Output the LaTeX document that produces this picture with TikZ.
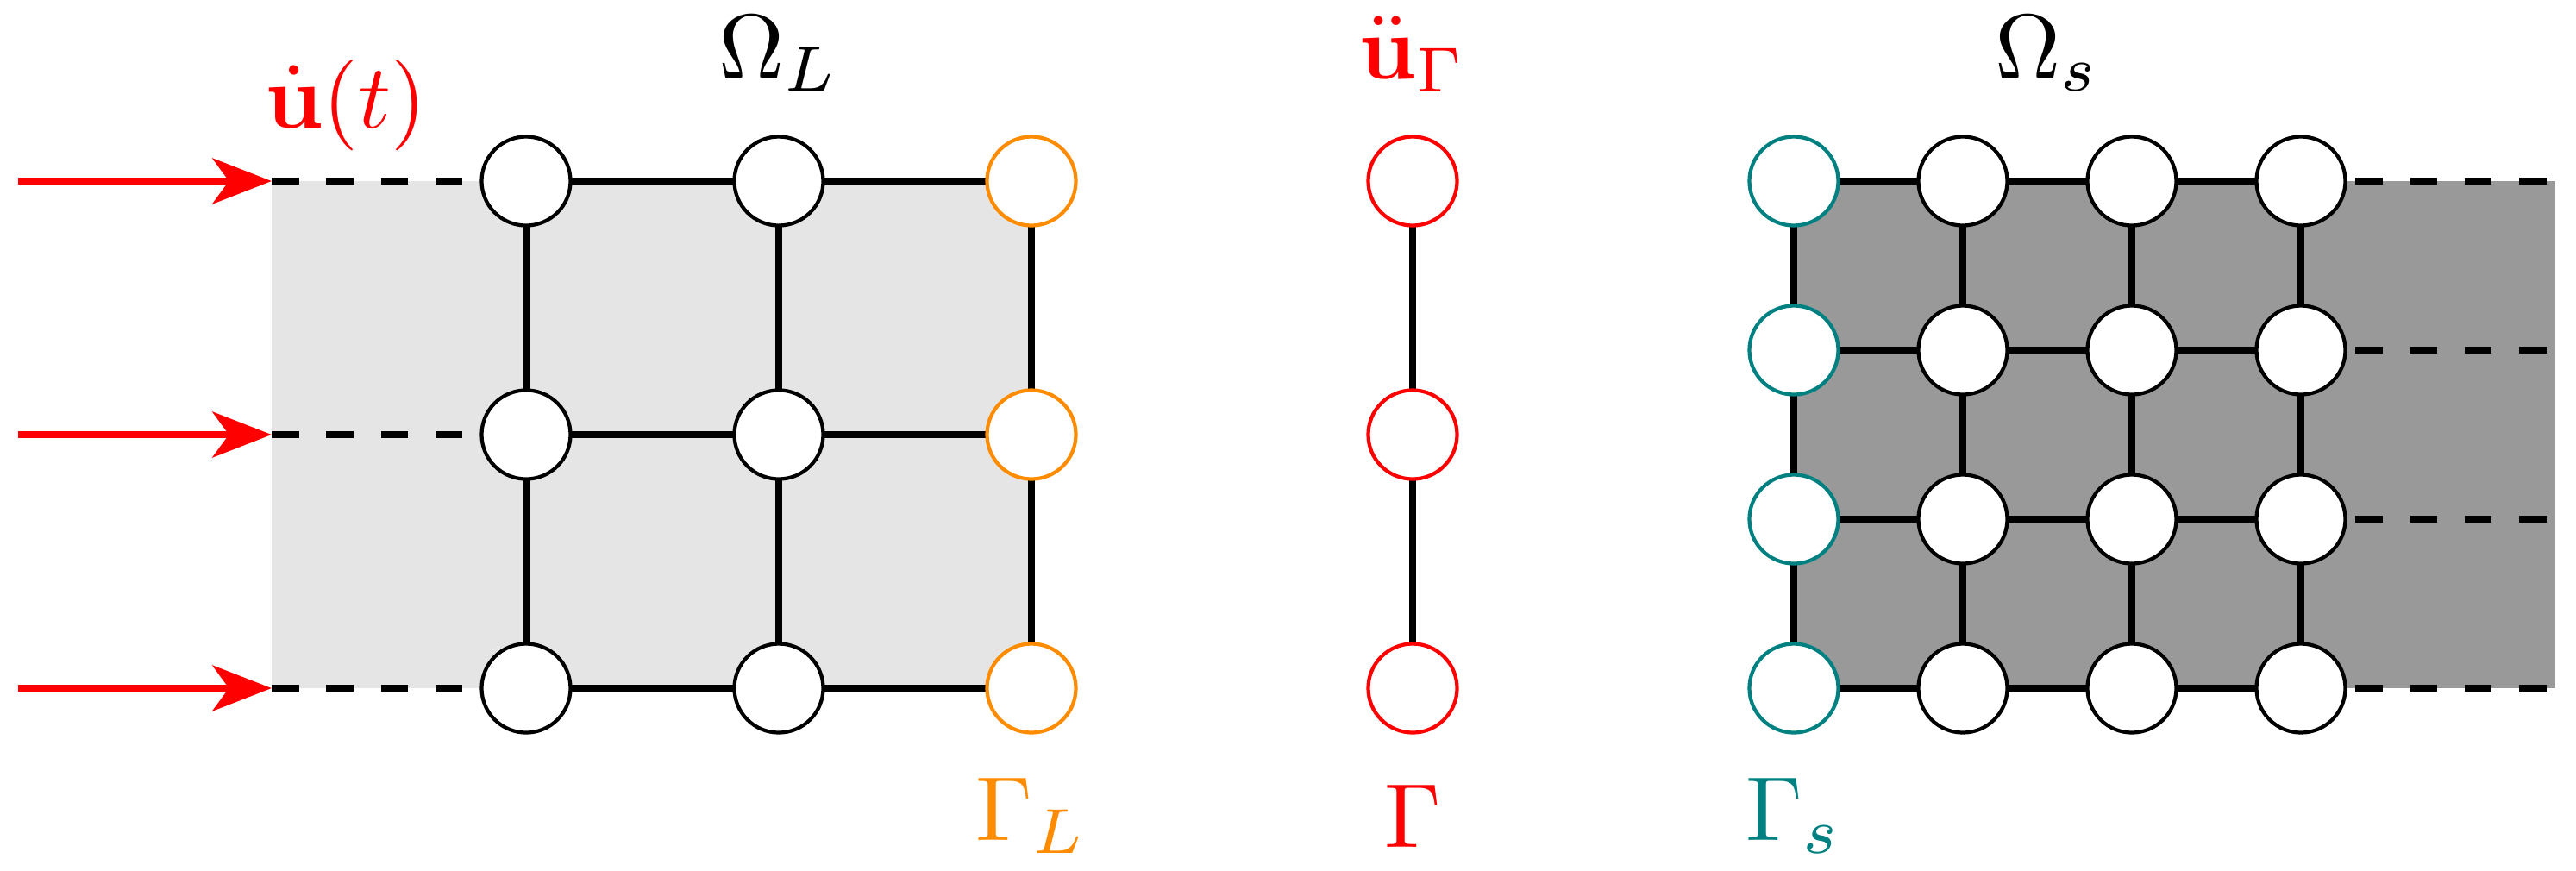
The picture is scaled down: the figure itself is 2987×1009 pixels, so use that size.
\documentclass[tikz,border=0pt]{standalone}
\usetikzlibrary{arrows.meta,backgrounds}
\definecolor{orng}{RGB}{255,140,0}
\definecolor{tealc}{RGB}{0,128,128}
\begin{document}
\begin{tikzpicture}[x=0.09484pt,y=-0.09484pt,
  dof/.style={circle,draw,fill=white,line width=0.4pt,inner sep=0pt,minimum size=9.77pt},
  bar/.style={line width=0.8pt},
  ext/.style={line width=0.8pt,dash pattern=on 3pt off 3pt},
  load/.style={red,line width=0.85pt,-{Stealth[length=6.5pt,width=5pt,inset=1.8pt]}},
  lbl/.style={inner sep=0pt}]
\useasboundingbox (0,0) rectangle (2987,1009);
% left domain nodes
\foreach \c/\x in {1/610,2/903}
  \foreach \r/\y in {1/210,2/504,3/798}
    \node[dof] (L\c\r) at (\x,\y) {};
\foreach \r/\y in {1/210,2/504,3/798} {
  \node[dof,draw=orng] (L3\r) at (1196,\y) {};
  \coordinate (Le\r) at (315,\y);
  \coordinate (As\r) at (21,\y);
  \node[dof,draw=red] (G\r) at (1638,\y) {};
}
% right domain nodes
\foreach \r/\y in {1/210,2/406,3/602,4/798} {
  \node[dof,draw=tealc] (S1\r) at (2080,\y) {};
  \foreach \c/\x in {2/2276,3/2472,4/2668}
    \node[dof] (S\c\r) at (\x,\y) {};
  \coordinate (Re\r) at (2963,\y);
}
\begin{scope}[on background layer]
  \fill[black!10] (Le1) rectangle (L33.center);
  \fill[black!40] (S11.center) rectangle (Re4);
  \foreach \r in {1,2,3} {
    \draw[bar] (L1\r.center) -- (L2\r.center) -- (L3\r.center);
    \draw[bar] (L\r1.center) -- (L\r2.center) -- (L\r3.center);
    \draw[ext] (Le\r) -- (L1\r.center);
  }
  \draw[bar] (G1.center) -- (G2.center) -- (G3.center);
  \foreach \r in {1,2,3,4} {
    \draw[bar] (S1\r.center) -- (S2\r.center) -- (S3\r.center) -- (S4\r.center);
    \draw[bar] (S\r1.center) -- (S\r2.center) -- (S\r3.center) -- (S\r4.center);
    \draw[ext] (S4\r.center) -- (Re\r);
  }
\end{scope}
\foreach \r in {1,2,3}
  \draw[load] (As\r) -- (Le\r);
% labels
\node[lbl] (oL) at (903,62) {$\Omega_L$};
\node[lbl,red] (ut) at (401,122) {$\dot{\mathbf{u}}(t)$};
\node[lbl,red] (uG) at (1638,63) {$\ddot{\mathbf{u}}_\Gamma$};
\node[lbl] (oS) at (2374,62) {$\Omega_s$};
\node[lbl,orng] (gL) at (1196,946) {$\Gamma_L$};
\node[lbl,red] (g) at (1638,946) {$\Gamma$};
\node[lbl,tealc] (gS) at (2080,946) {$\Gamma_s$};
\end{tikzpicture}
\end{document}
